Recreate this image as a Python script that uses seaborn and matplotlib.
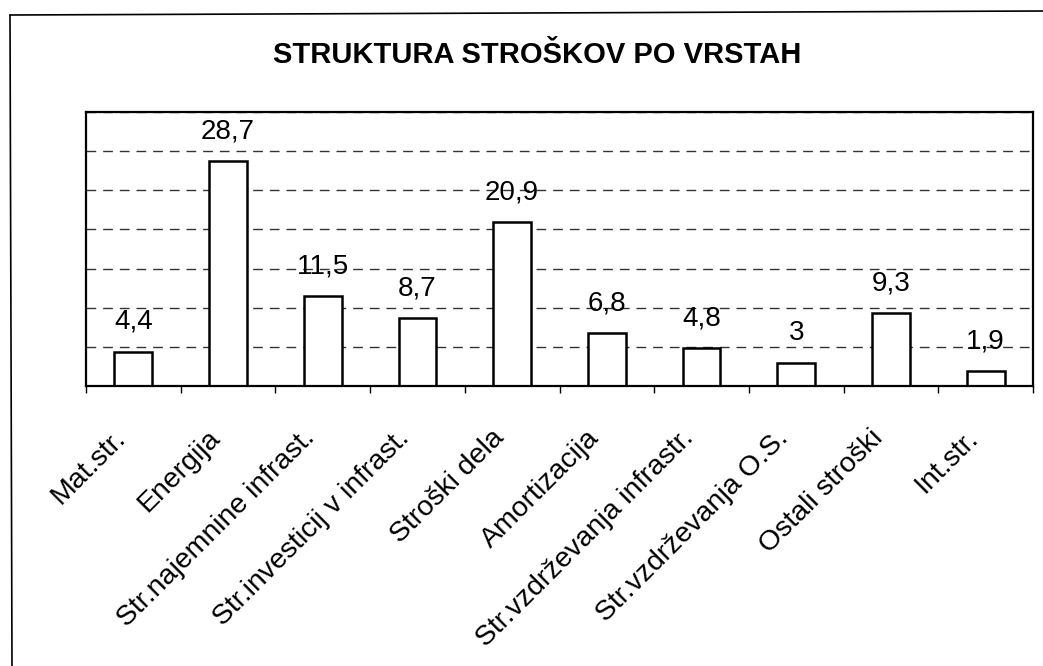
import matplotlib
matplotlib.use("Agg")
import matplotlib.pyplot as plt
import matplotlib.transforms as mtransforms
import seaborn as sns
import pandas as pd
from matplotlib.lines import Line2D
from matplotlib.ticker import MultipleLocator, FixedLocator

categories = ["Mat.str.", "Energija", "Str.najemnine infrast.", "Str.investicij v infrast.",
              "Stroški dela", "Amortizacija", "Str.vzdrževanja infrastr.", "Str.vzdrževanja O.S.",
              "Ostali stroški", "Int.str."]
values = [4.4, 28.7, 11.5, 8.7, 20.9, 6.8, 4.8, 3, 9.3, 1.9]
title = "STRUKTURA STROŠKOV PO VRSTAH"

sns.set_theme(style="white")
plt.rcParams['font.family'] = ['Liberation Sans', 'DejaVu Sans']
plt.rcParams['text.color'] = 'black'
plt.rcParams['xtick.color'] = 'black'
plt.rcParams['xtick.labelcolor'] = 'black'

df = pd.DataFrame({"cat": categories, "val": values})

fig = plt.figure(figsize=(10.43, 6.66), dpi=100)
ax = fig.add_axes([86/1043, 1-386/666, (1033-86)/1043, (386-112)/666])

sns.barplot(data=df, x="cat", y="val", ax=ax, color="white", edgecolor="black",
            linewidth=1.8, width=0.4, saturation=1)

ax.set_ylim(0, 35)
ax.set_xlim(-0.5, len(categories) - 0.5)
ax.yaxis.set_major_locator(MultipleLocator(5))
ax.set_yticklabels([])
ax.tick_params(axis="y", length=0)
ax.grid(axis="y", color="#333333", linestyle=(0, (7, 5)), linewidth=1)
ax.set_axisbelow(True)
for s in ax.spines.values():
    s.set_color("black")
    s.set_linewidth(1.6)

ax.set_xlabel("")
ax.set_ylabel("")
ax.xaxis.set_minor_locator(FixedLocator([i - 0.5 for i in range(len(categories) + 1)]))
ax.tick_params(axis="x", which="major", length=0, pad=28)
ax.tick_params(axis="x", which="minor", length=5, width=1, direction="out", color="black", bottom=True)
ax.set_xticks(range(len(categories)))
ax.set_xticklabels(categories, rotation=45, ha="right", rotation_mode="anchor", fontsize=20.5, color="black")
offset = mtransforms.ScaledTranslation(-21/100, 0, fig.dpi_scale_trans)
for lbl in ax.get_xticklabels():
    lbl.set_transform(lbl.get_transform() + offset)

labels = [f"{v:g}".replace(".", ",") for v in values]
ax.bar_label(ax.containers[0], labels=labels, padding=12, fontsize=20, color="black")

fig.suptitle(title, x=537/1043, y=1-55/666, va="center", fontsize=21, fontweight="bold", color="black")

fig.add_artist(Line2D([10/1043, 1], [1-15/666, 1-11/666], transform=fig.transFigure, color="black", lw=1.2))
fig.add_artist(Line2D([10/1043, 12/1043], [1-15/666, 0], transform=fig.transFigure, color="black", lw=1.2))

fig.savefig("out.png", dpi=100, facecolor="white")
